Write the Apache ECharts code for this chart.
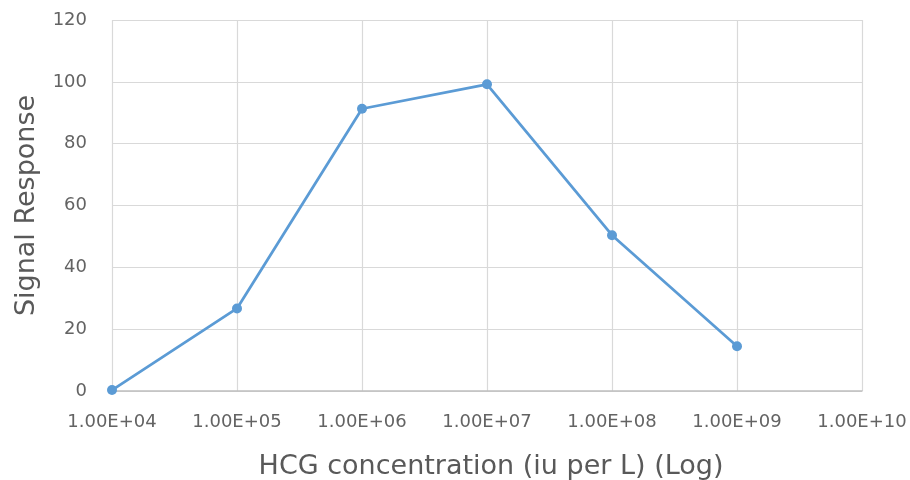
<!DOCTYPE html>
<html>
<head>
<meta charset="utf-8">
<script src="https://cdn.jsdelivr.net/npm/echarts@6/dist/echarts.min.js"></script>
<style>
  html, body { margin: 0; padding: 0; background: #ffffff; }
  #chart { width: 910px; height: 480px; }
</style>
</head>
<body>
<div id="chart"></div>
<script>
// HCG concentration (iu per L) and the measured signal response
const concentrations = [1e4, 1e5, 1e6, 1e7, 1e8, 1e9];
const signalResponse = [0.3, 26.7, 91.3, 99.2, 50.4, 14.5];

// Axis ranges
const xMin = 1e4, xMax = 1e10;
const yMin = 0, yMax = 120, yStep = 20;

const FONT = 'DejaVu Sans';
const TEXT_COLOR = '#595959';

// Excel-style scientific label, e.g. 1.00E+04
function sciLabel(v) {
  const exp = Math.round(Math.log10(v));
  const mant = v / Math.pow(10, exp);
  const sign = exp < 0 ? '-' : '+';
  const e = String(Math.abs(exp)).padStart(2, '0');
  return mant.toFixed(2) + 'E' + sign + e;
}

const points = concentrations.map((c, i) => [c, signalResponse[i]]);

const chart = echarts.init(document.getElementById('chart'), null, { renderer: 'canvas' });
chart.setOption({
  animation: false,
  backgroundColor: '#ffffff',
  grid: { left: 112, right: 48, top: 20, bottom: 89, containLabel: false, outerBoundsMode: 'none' },
  xAxis: {
    type: 'log',
    logBase: 10,
    min: xMin,
    max: xMax,
    name: 'HCG concentration (iu per L) (Log)',
    nameLocation: 'middle',
    nameGap: 62,
    nameTextStyle: { fontFamily: FONT, fontSize: 27, color: TEXT_COLOR, padding: [0, 0, 0, 8] },
    axisLine: { show: true, lineStyle: { color: '#bfbfbf', width: 1.5 } },
    axisTick: { show: false },
    axisLabel: {
      fontFamily: FONT, fontSize: 18, color: '#636363', margin: 22,
      formatter: sciLabel
    },
    splitLine: { show: true, lineStyle: { color: '#d9d9d9', width: 1.2 } }
  },
  yAxis: {
    type: 'value',
    min: yMin,
    max: yMax,
    interval: yStep,
    name: 'Signal Response',
    nameLocation: 'middle',
    nameGap: 72,
    nameTextStyle: { fontFamily: FONT, fontSize: 27, color: TEXT_COLOR },
    axisLine: { show: false },
    axisTick: { show: false },
    axisLabel: { fontFamily: FONT, fontSize: 18, color: '#636363', margin: 25 },
    splitLine: { show: true, lineStyle: { color: '#d9d9d9', width: 1.2 } }
  },
  series: [{
    type: 'line',
    data: points,
    symbol: 'circle',
    symbolSize: 10,
    clip: false,
    lineStyle: { color: '#5b9bd5', width: 2.75 },
    itemStyle: { color: '#5b9bd5' }
  }]
});
</script>
</body>
</html>
